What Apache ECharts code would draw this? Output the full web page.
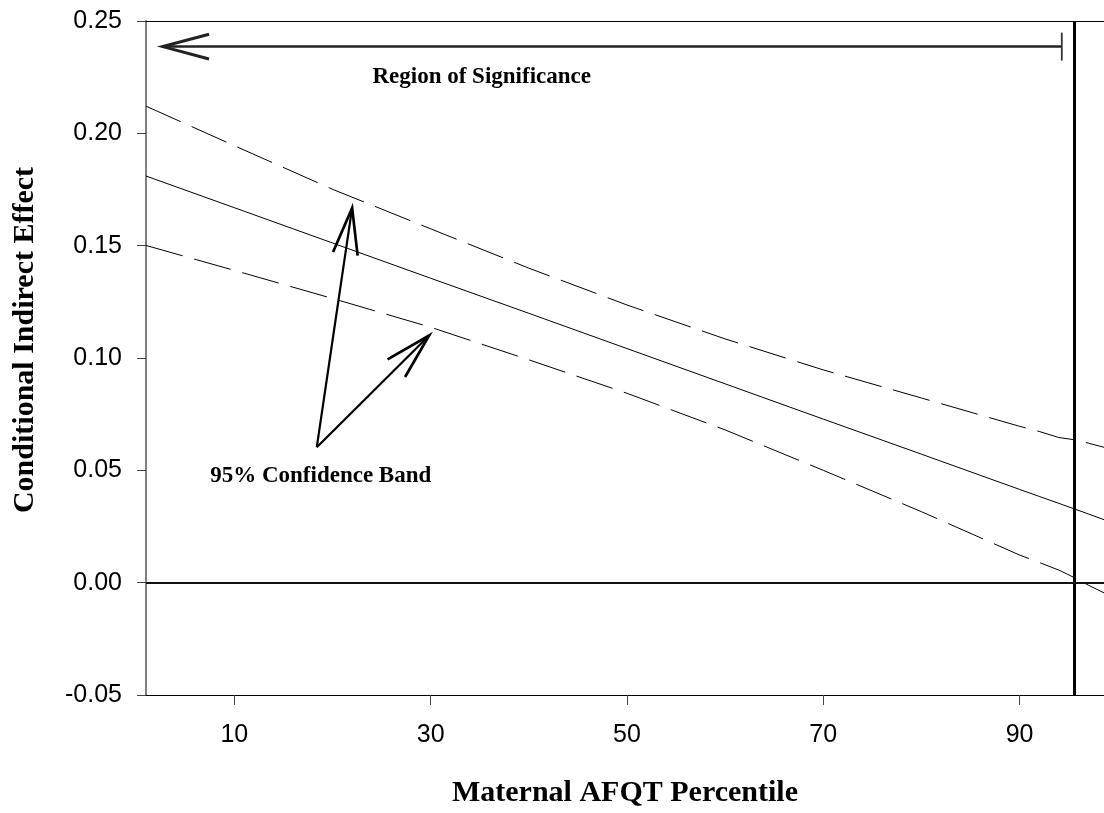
<!DOCTYPE html>
<html>
<head>
<meta charset="utf-8">
<script src="https://cdn.jsdelivr.net/npm/echarts@6/dist/echarts.min.js"></script>
<style>
html,body{margin:0;padding:0;background:#fff;}
#chart{width:1104px;height:813px;}
</style>
</head>
<body>
<div id="chart"></div>
<script>
// ---- data ----
const percentiles = [1, 10, 20, 30, 40, 50, 60, 70, 80, 90, 92, 94, 95.6, 97, 99];
const indirectEffect = [0.1810, 0.1669, 0.1512, 0.1355, 0.1199, 0.1042, 0.0885, 0.0728, 0.0572, 0.0415, 0.0384, 0.0353, 0.0328, 0.0306, 0.0274];
const upperBand = [0.2121, 0.1945, 0.1751, 0.1575, 0.1400, 0.1236, 0.1085, 0.0947, 0.0822, 0.0696, 0.0673, 0.0646, 0.0636, 0.0621, 0.0598];
const lowerBand = [0.1501, 0.1390, 0.1265, 0.1137, 0.0992, 0.0843, 0.0680, 0.0500, 0.0316, 0.0123, 0.0090, 0.0056, 0.0022, -0.0011, -0.0054];
const xTickValues = [10, 30, 50, 70, 90];
const significanceBoundary = 95.6;
// arrows: [tailX, tailY, tipX, tipY, hasTailBar]
const annotationArrows = [
  [94.3, 0.2386, 2.7, 0.2386, 1],
  [18.4, 0.0603, 22.0, 0.1668, 0],
  [18.4, 0.0603, 29.85, 0.1100, 0]
];
const annotationLabelPos = [[35.2, 0.2251], [18.8, 0.0474]];
const annotationLabelText = ['Region of Significance', '95% Confidence Band'];

const pairs = (xs, ys) => xs.map((x, i) => [x, ys[i]]);
const serif = '"Liberation Serif", "Times New Roman", serif';
const sans = '"Liberation Sans", Arial, sans-serif';

const chart = echarts.init(document.getElementById('chart'), null, {renderer: 'canvas'});

function renderArrow(params, api) {
  const a = api.coord([api.value(0), api.value(1)]);
  const b = api.coord([api.value(2), api.value(3)]);
  const bar = api.value(4);
  const ang = Math.atan2(a[1] - b[1], a[0] - b[0]);
  const L = 48, s = 15 * Math.PI / 180;
  const w1 = [b[0] + L * Math.cos(ang + s), b[1] + L * Math.sin(ang + s)];
  const w2 = [b[0] + L * Math.cos(ang - s), b[1] + L * Math.sin(ang - s)];
  const color = bar ? '#222' : '#000';
  const lw = bar ? 2.5 : 2.2;
  const children = [
    {type: 'polyline', shape: {points: [a, b]}, style: {stroke: color, lineWidth: lw, fill: null}},
    {type: 'polyline', shape: {points: [w1, b, w2]}, style: {stroke: color, lineWidth: lw + 0.5, fill: null}}
  ];
  if (bar) {
    children.push({type: 'line', shape: {x1: a[0], y1: a[1] - 14, x2: a[0], y2: a[1] + 14}, style: {stroke: '#333', lineWidth: 1.8}});
  }
  return {type: 'group', children: children};
}

function renderLabel(params, api) {
  const p = api.coord([api.value(0), api.value(1)]);
  return {
    type: 'text', x: p[0], y: p[1],
    style: {text: annotationLabelText[params.dataIndex], fill: '#000', font: 'bold 23px ' + serif, align: 'center', verticalAlign: 'middle'}
  };
}

const option = {
  animation: false,
  backgroundColor: '#fff',
  grid: {left: 146, right: 0, top: 21, bottom: 118},
  xAxis: {
    type: 'value', min: 1, max: 98.6,
    axisLine: {show: true, onZero: false, lineStyle: {color: '#000', width: 1}},
    axisTick: {show: true, customValues: xTickValues, length: 10, lineStyle: {color: '#444', width: 1}},
    axisLabel: {customValues: xTickValues, fontSize: 25, fontFamily: sans, color: '#000', margin: 28},
    splitLine: {show: false}
  },
  yAxis: {
    type: 'value', min: -0.05, max: 0.25, interval: 0.05,
    axisLine: {show: true, onZero: false, lineStyle: {color: '#808080', width: 2}},
    axisTick: {show: true, length: 9, lineStyle: {color: '#444', width: 1}},
    axisLabel: {fontSize: 25, fontFamily: sans, color: '#000', margin: 24, formatter: v => v.toFixed(2)},
    splitLine: {show: false}
  },
  graphic: [
    {type: 'text', x: 625, y: 793, style: {text: 'Maternal AFQT Percentile', font: 'bold 30px ' + serif, fill: '#000', align: 'center', verticalAlign: 'middle'}},
    {type: 'text', x: 25, y: 340, rotation: Math.PI / 2, style: {text: 'Conditional Indirect Effect', font: 'bold 30px ' + serif, fill: '#000', align: 'center', verticalAlign: 'middle'}}
  ],
  series: [
    {
      type: 'line', name: 'Conditional Indirect Effect', data: pairs(percentiles, indirectEffect),
      showSymbol: false, lineStyle: {color: '#000', width: 1}, z: 3,
      markLine: {
        silent: true, symbol: 'none', label: {show: false}, animation: false,
        data: [
          {xAxis: significanceBoundary, lineStyle: {color: '#000', width: 3, type: 'solid'}},
          {yAxis: 0, lineStyle: {color: '#111', width: 2, type: 'solid'}},
          {yAxis: 0.25, lineStyle: {color: '#000', width: 1, type: 'solid'}}
        ]
      }
    },
    {
      type: 'line', name: 'Upper 95%', data: pairs(percentiles, upperBand),
      showSymbol: false, lineStyle: {color: '#000', width: 1, type: [38, 12]}, z: 3
    },
    {
      type: 'line', name: 'Lower 95%', data: pairs(percentiles, lowerBand),
      showSymbol: false, lineStyle: {color: '#000', width: 1, type: [38, 12]}, z: 3
    },
    {
      type: 'custom', name: 'arrows', data: annotationArrows, renderItem: renderArrow, clip: false,
      encode: {x: [0, 2], y: [1, 3]}, silent: true, z: 5
    },
    {
      type: 'custom', name: 'labels', data: annotationLabelPos, renderItem: renderLabel, clip: false,
      encode: {x: 0, y: 1}, silent: true, z: 5
    }
  ]
};
chart.setOption(option);
</script>
</body>
</html>
